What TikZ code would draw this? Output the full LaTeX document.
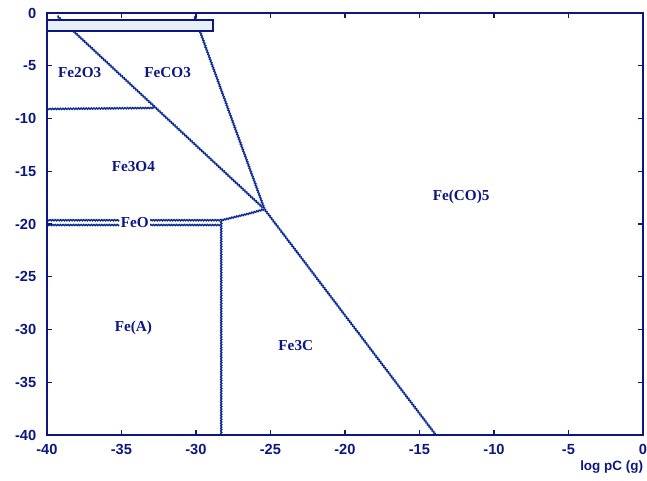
\documentclass[tikz,border=0pt]{standalone}
\usepackage{fontspec}
\setmainfont{Liberation Serif}
\setsansfont{Liberation Sans}
\usetikzlibrary{decorations.pathmorphing}
\definecolor{axisnavy}{RGB}{12,24,128}
\definecolor{linenavy}{RGB}{16,36,140}
\definecolor{lineblue}{RGB}{100,150,220}
\definecolor{boxfill}{RGB}{232,240,248}

\tikzset{
  phase/.style={draw=lineblue,line width=1.6pt,
    postaction={draw=linenavy,line width=0.8pt,decorate,
      decoration={zigzag,segment length=2.2pt,amplitude=0.7pt}}},
  region/.style={text=axisnavy,inner sep=1pt,
    font=\fontsize{13}{15}\selectfont\bfseries},
  ticklab/.style={text=axisnavy,inner sep=0pt,
    font=\sffamily\bfseries\fontsize{12.5}{14}\selectfont},
}

\begin{document}
\begin{tikzpicture}[x=0.447cm,y=0.3165cm]
  \useasboundingbox (-43.15,1.23) rectangle (0.27,-44.27);

  % points of the phase boundaries
  \coordinate (a0) at (-39.3,-0.3);
  \coordinate (b0) at (-30.1,-0.3);
  \coordinate (tp) at (-25.4,-18.6);
  \coordinate (c1) at (-13.9,-40);
  \coordinate (h1) at (-40,-9.1);
  \coordinate (h2) at (-32.8,-9.0);
  \coordinate (fc) at (-28.3,-19.65);
  \coordinate (fm) at (-26.4,-19.0);
  \coordinate (fl) at (-28.3,-20.1);
  \coordinate (fb) at (-28.3,-40);

  % region labels
  \node[region] (fe2o3) at (-37.8,-5.6) {Fe2O3};
  \node[region] (feco3) at (-31.9,-5.6) {FeCO3};
  \node[region] (fe3o4) at (-34.2,-14.6) {Fe3O4};
  \node[region] (feo) at (-34.1,-19.85) {FeO};
  \node[region] (feco5) at (-12.2,-17.4) {Fe(CO)5};
  \node[region] (fea) at (-34.2,-29.8) {Fe(A)};
  \node[region] (fe3c) at (-23.3,-31.5) {Fe3C};

  % boundaries
  \draw[phase] (a0) -- (tp) -- (c1);
  \draw[phase] (b0) -- (tp);
  \draw[phase] (h1) -- (h2);
  \draw[phase] (-40,-19.65) -- (feo.west |- fc);
  \draw[phase] (-40,-20.1) -- (feo.west |- fl);
  \draw[phase] (feo.east |- fc) -- (fc);
  \draw[phase] (feo.east |- fl) -- (fl);
  \draw[phase] (fc) -- (fm) -- (tp);
  \draw[phase] (fc) -- (fb);

  % box at the top
  \draw[axisnavy,line width=1.2pt,fill=boxfill] (-40,-0.66) rectangle (-28.86,-1.7);

  % frame and ticks
  \draw[axisnavy,line width=1.7pt] (-40,-40) rectangle (0,0);
  \foreach \v in {-35,-30,...,-5} {
    \draw[axisnavy,line width=1pt] (\v,-40) -- ++(0pt,4pt);
    \draw[axisnavy,line width=1pt] (\v,0) -- ++(0pt,-4pt);
    \draw[axisnavy,line width=1pt] (-40,\v) -- ++(4pt,0pt);
    \draw[axisnavy,line width=1pt] (0,\v) -- ++(-4pt,0pt);
  }
  \foreach \v [count=\i] in {-40,-35,...,0} {
    \node[ticklab,anchor=north] (xl\i) at (\v,-40.85) {\v};
    \node[ticklab,anchor=east] (yl\i) at (-40.7,\v) {\v};
  }
  \node[ticklab,font=\sffamily\bfseries\fontsize{11.5}{13}\selectfont]
    (xlab) at (-2.1,-43.0) {log pC (g)};
\end{tikzpicture}
\end{document}
